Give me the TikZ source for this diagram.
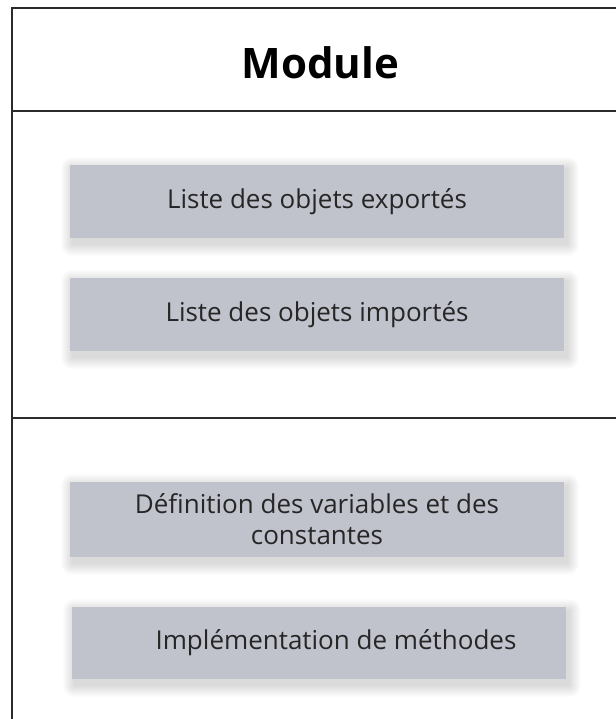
\documentclass[tikz,border=0pt]{standalone}
\usepackage{fontspec}
\setmainfont{Open Sans}
\usetikzlibrary{calc,backgrounds}
\definecolor{boxfill}{HTML}{C0C3CC}
\definecolor{framecol}{HTML}{2B2B2B}
\definecolor{txtcol}{HTML}{262626}
\newcommand{\softshade}[1]{%
  \foreach \k in {1,...,12}{%
    \fill[black,opacity=0.011,rounded corners=\k pt] ($(#1.north west)+(3-\k,4-\k)$) rectangle ($(#1.south east)+(3+\k,6+\k)$);
  }}
\begin{document}
\begin{tikzpicture}[x=1pt,y=-1pt,
  frame/.style={draw=framecol,line width=2.2pt},
  itembox/.style={fill=boxfill,minimum width=494pt,inner sep=0pt,
    text=txtcol,font=\fontsize{26}{31}\selectfont,align=center},
  titletext/.style={font=\fontsize{42}{48}\bfseries\selectfont,text=black}]
\useasboundingbox (0,0) rectangle (615,719);
% frame
\draw[frame] (12,719) -- (12,8) -- (616,8);
\draw[frame] (12,111) -- (616,111);
\draw[frame] (12,418) -- (616,418);
% title
\node[titletext] (title) at (320.5,63) {Module};
% boxes
\node[itembox,minimum height=73pt] (exp) at (317,201.5) {Liste des objets exportés};
\node[itembox,minimum height=73pt] (imp) at (317,314.5) {Liste des objets importés};
\node[itembox,minimum height=75pt] (def) at (317,519.5) {Définition des variables et des\\constantes};
\node[itembox,minimum height=72pt] (meth) at (319,643) {\hspace*{34pt}Implémentation de méthodes};
\begin{scope}[on background layer]
  \fill[white] (0,0) rectangle (615,719);
  \softshade{exp}
  \softshade{imp}
  \softshade{def}
  \softshade{meth}
\end{scope}
\end{tikzpicture}
\end{document}
